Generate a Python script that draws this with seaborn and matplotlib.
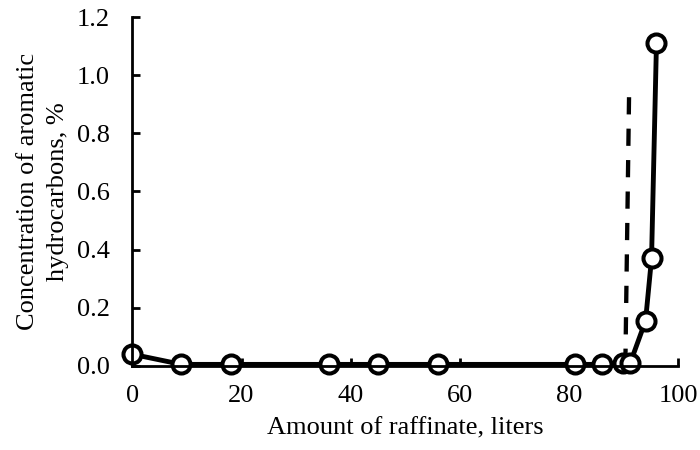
import numpy as np
import pandas as pd
import seaborn as sns
import matplotlib.pyplot as plt

# Data
raffinate = [0, 9, 18, 36, 45, 56, 81, 86, 89.8, 91.2, 94, 95.1, 96]
concentration = [0.04, 0.005, 0.005, 0.005, 0.005, 0.005, 0.005, 0.005, 0.01, 0.01, 0.155, 0.37, 1.11]

# Dashed vertical marker line
dash_x = [90.3, 91]
dash_y = [0.0, 0.955]

sns.set_theme(style="ticks")
plt.rcParams['font.family'] = ['Liberation Serif', 'DejaVu Serif']

df = pd.DataFrame({"x": raffinate, "y": concentration})
dash = pd.DataFrame({"x": dash_x, "y": dash_y})

fig = plt.figure(figsize=(7, 4.5), dpi=100)
ax = fig.add_axes([0.189, 0.187, 0.78, 0.775])

sns.lineplot(data=dash, x="x", y="y", ax=ax, color="black", linewidth=3.1,
             linestyle=(0, (4.0, 3.3)), sort=False)
sns.lineplot(data=df, x="x", y="y", ax=ax, color="black", linewidth=3.5,
             marker="o", markersize=13, markerfacecolor="white",
             markeredgecolor="black", markeredgewidth=2.9, sort=False, clip_on=False)

ax.set_xlim(0, 100)
ax.set_ylim(0, 1.2)
ax.set_xticks([0, 20, 40, 60, 80, 100])
ax.set_yticks(np.arange(0, 1.21, 0.2))
ax.set_yticklabels([f"{v:.1f}" for v in np.arange(0, 1.21, 0.2)])

ax.set_xlabel("Amount of raffinate, liters", fontsize=19, color="black", labelpad=7)
ax.set_ylabel("Concentration of aromatic\nhydrocarbons, %", fontsize=19, color="black",
              labelpad=6, linespacing=1.45)
ax.tick_params(direction="in", length=6, width=2, labelsize=19, colors="black")
ax.tick_params(axis="x", pad=14)
ax.tick_params(axis="y", pad=16)

for side in ["top", "right"]:
    ax.spines[side].set_visible(False)
for side in ["left", "bottom"]:
    ax.spines[side].set_linewidth(2)
    ax.spines[side].set_color("black")

fig.savefig("out.png", dpi=100)
